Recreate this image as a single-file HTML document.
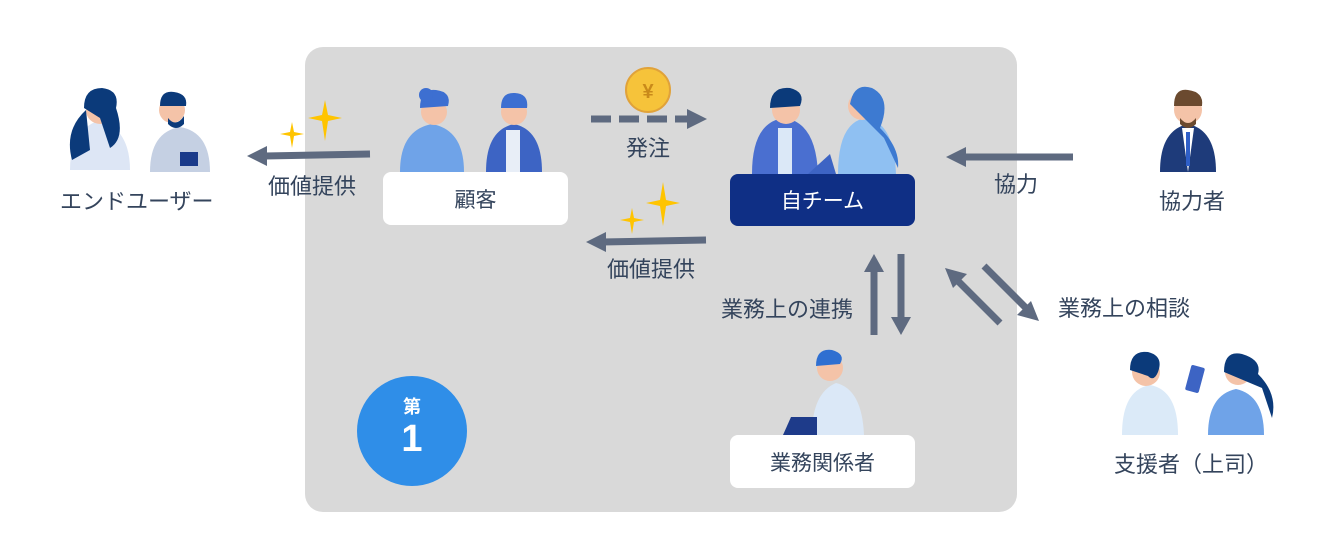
<!DOCTYPE html>
<html><head><meta charset="utf-8"><style>
body{margin:0;width:1323px;height:545px;background:#fff;position:relative;overflow:hidden;font-family:"Liberation Sans","Noto Sans CJK JP",sans-serif;}
.t{position:absolute;color:#34445c;font-size:22px;white-space:nowrap;}
.box{position:absolute;border-radius:8px;display:flex;align-items:center;justify-content:center;font-size:21px;}
</style></head><body>
<div style="position:absolute;left:305px;top:47px;width:712px;height:465px;background:#d9d9d9;border-radius:18px"></div>
<svg width="1323" height="545" style="position:absolute;left:0;top:0">
<path d="M70,170 q0,-40 30,-50 q30,10 30,50z" fill="#dde6f5"/><circle cx="100" cy="110" r="14" fill="#f4c3a8"/><path d="M84,108 q0,-20 18,-20 q18,2 14,20 q10,30 -6,40 l-10,-30z" fill="#0b3a7a"/><path d="M72,160 q-8,-30 14,-50 l4,40z" fill="#0b3a7a"/>
<path d="M150,172 q0,-40 30,-45 q30,5 30,45z" fill="#c5d0e3"/><circle cx="172" cy="110" r="13" fill="#f4c3a8"/><path d="M160,106 q0,-16 14,-14 q14,2 12,14z" fill="#0b3a7a"/><path d="M168,118 q8,10 16,-2 v8 q-8,8 -16,0z" fill="#0b3a7a"/><rect x="180" y="152" width="18" height="14" fill="#1a3a8a"/>
<path d="M400,172 q0,-42 32,-48 q32,6 32,48z" fill="#6fa3e8"/><circle cx="434" cy="112" r="13" fill="#f4c3a8"/><path d="M420,108 q0,-20 16,-18 q16,2 12,16z" fill="#3d6fd1"/><circle cx="426" cy="95" r="7" fill="#3d6fd1"/>
<path d="M486,172 q0,-42 28,-48 q28,6 28,48z" fill="#3d64c4"/><rect x="506" y="130" width="14" height="42" fill="#e8eef7"/><circle cx="514" cy="112" r="13" fill="#f4c3a8"/><path d="M501,108 q0,-16 14,-15 q14,1 12,15z" fill="#3d6fd1"/>
<circle cx="648" cy="90" r="22" fill="#f6c33a" stroke="#e0a23a" stroke-width="2"/><text x="648" y="98" text-anchor="middle" font-size="20" font-weight="bold" fill="#c98a1a" font-family="Liberation Sans">¥</text>
<path d="M752,174 q0,-52 32,-56 q32,4 34,56z" fill="#4a6fd0"/><rect x="778" y="128" width="14" height="46" fill="#dbe8f7"/><circle cx="786" cy="110" r="14" fill="#f4c3a8"/><path d="M770,108 q0,-22 20,-20 q16,4 10,18z" fill="#0b3a7a"/>
<path d="M808,174 l22,-20 l6,20z" fill="#3d64c4"/>
<path d="M838,174 q0,-52 28,-56 q28,4 30,56z" fill="#8fc0f2"/><circle cx="862" cy="106" r="14" fill="#f4c3a8"/><path d="M850,104 q4,-22 22,-16 q20,10 8,40 q20,20 18,40 l-14,-30z" fill="#3d7ad1"/>
<path d="M1160,172 q0,-42 28,-48 q28,6 28,48z" fill="#1e3b7a"/><path d="M1182,128 h12 l-6,44z" fill="#fff"/><rect x="1186" y="132" width="4" height="34" fill="#2f5fc8"/><circle cx="1188" cy="110" r="14" fill="#f4c3a8"/><path d="M1174,106 q0,-18 14,-16 q16,2 14,16z" fill="#6b4a2f"/><path d="M1180,118 q8,10 16,0 v6 q-8,8 -16,0z" fill="#6b4a2f"/>
<path d="M1122,435 q0,-45 28,-50 q28,5 28,50z" fill="#dbeaf8"/><circle cx="1146" cy="372" r="14" fill="#f4c3a8"/><path d="M1130,370 q0,-20 18,-18 q16,4 10,20 q-4,10 -10,4z" fill="#0b3a7a"/>
<rect x="1188" y="366" width="14" height="26" rx="2" fill="#3d64c4" transform="rotate(15 1195 379)"/>
<path d="M1208,435 q0,-40 28,-46 q28,6 28,46z" fill="#6fa3e8"/><circle cx="1238" cy="372" r="13" fill="#f4c3a8"/><path d="M1224,372 q0,-22 18,-18 q20,6 16,20 q20,20 14,44 l-10,-30z" fill="#0b3a7a"/>
<path d="M812,435 q0,-42 24,-52 q26,6 28,52z" fill="#dbe8f7"/><circle cx="830" cy="368" r="13" fill="#f4c3a8"/><path d="M816,366 q0,-18 16,-16 q14,4 8,14z" fill="#2f6fd1"/><path d="M783,435 l8,-18 h26 v18z" fill="#1e3b8a"/>
<g fill="#ffc400"><path d="M325,100 l3,15 l14,3 l-14,3 l-3,20 l-3,-20 l-14,-3 l14,-3z"/><path d="M292,122 l2,10 l10,2 l-10,2 l-2,12 l-2,-12 l-10,-2 l10,-2z"/>
<path d="M663,182 l3,18 l14,3 l-14,3 l-3,20 l-3,-20 l-14,-3 l14,-3z"/><path d="M632,208 l2,10 l10,2 l-10,2 l-2,12 l-2,-12 l-10,-2 l10,-2z"/></g>
<g stroke="#5e6a80" stroke-width="7" fill="#5e6a80">
<line x1="370" y1="154" x2="265" y2="156"/><path d="M247,156 l20,-10 v20z" stroke="none"/>
<line x1="706" y1="240" x2="602" y2="242"/><path d="M586,242 l20,-10 v20z" stroke="none"/>
<line x1="1073" y1="157" x2="965" y2="157"/><path d="M946,157 l20,-10 v20z" stroke="none"/>
<line x1="591" y1="119" x2="690" y2="119" stroke-dasharray="20,8"/><path d="M707,119 l-20,-10 v20z" stroke="none"/>
<line x1="874" y1="335" x2="874" y2="270"/><path d="M874,254 l-10,18 h20z" stroke="none"/>
<line x1="901" y1="254" x2="901" y2="318"/><path d="M901,335 l-10,-18 h20z" stroke="none"/>
<line x1="1000" y1="323" x2="957" y2="280"/><path d="M945,268 l22,6 l-14,14z" stroke="none"/>
<line x1="984" y1="266" x2="1027" y2="309"/><path d="M1039,321 l-22,-6 l14,-14z" stroke="none"/>
</g>
</svg>
<div class="box" style="left:383px;top:172px;width:185px;height:53px;background:#fff;color:#34445c">顧客</div>
<div class="box" style="left:730px;top:174px;width:185px;height:52px;background:#0f2f85;color:#fff">自チーム</div>
<div class="box" style="left:730px;top:435px;width:185px;height:53px;background:#fff;color:#34445c">業務関係者</div>
<div style="position:absolute;left:357px;top:376px;width:110px;height:110px;border-radius:50%;background:#2f8ee8;color:#fff;text-align:center;font-weight:bold">
<div style="font-size:18px;margin-top:17px">第</div><div style="font-size:38px;line-height:40px">1</div></div>
<div class="t" style="left:60px;top:184px">エンドユーザー</div>
<div class="t" style="left:268px;top:169px">価値提供</div>
<div class="t" style="left:626px;top:131px">発注</div>
<div class="t" style="left:607px;top:252px">価値提供</div>
<div class="t" style="left:994px;top:167px">協力</div>
<div class="t" style="left:1159px;top:184px">協力者</div>
<div class="t" style="left:721px;top:292px">業務上の連携</div>
<div class="t" style="left:1058px;top:291px">業務上の相談</div>
<div class="t" style="left:1114px;top:447px">支援者（上司）</div>
</body></html>
